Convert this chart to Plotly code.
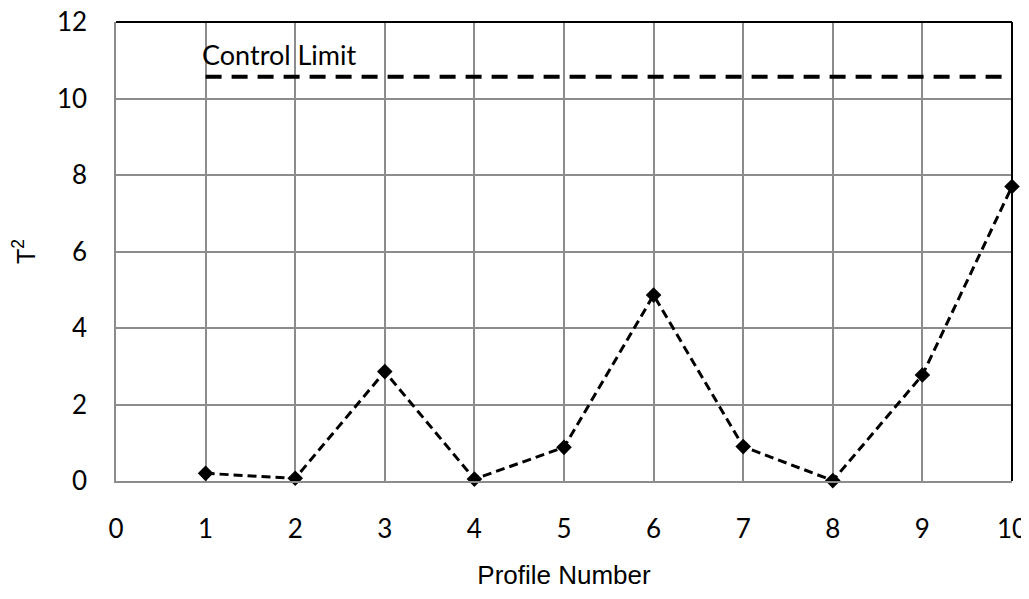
import plotly.graph_objects as go

profiles = [1, 2, 3, 4, 5, 6, 7, 8, 9, 10]
t2_values = [0.20, 0.07, 2.86, 0.05, 0.88, 4.86, 0.90, 0.01, 2.77, 7.70]
control_limit = 10.57
limit_x = [1, 10]
x_ticks = [0, 1, 2, 3, 4, 5, 6, 7, 8, 9, 10]
y_ticks = [0, 2, 4, 6, 8, 10, 12]

fig = go.Figure()
fig.add_trace(go.Scatter(
    x=limit_x, y=[control_limit] * len(limit_x), mode="lines",
    line=dict(color="black", width=4, dash="16px,10px"),
    hoverinfo="skip", showlegend=False, cliponaxis=False))
fig.add_trace(go.Scatter(
    x=profiles, y=t2_values, mode="lines+markers",
    line=dict(color="black", width=3, dash="9px,5px"),
    marker=dict(symbol="diamond", size=12, color="black"),
    showlegend=False, cliponaxis=False))

fig.add_annotation(x=limit_x[0], y=control_limit, text="Control Limit",
                   xanchor="left", yanchor="bottom", showarrow=False,
                   xshift=-6, yshift=4,
                   font=dict(family="Lato", size=27, color="black"))

# top and right black borders
fig.add_shape(type="line", xref="x domain", yref="y domain", x0=0, x1=1, y0=1, y1=1,
              line=dict(color="black", width=2))
fig.add_shape(type="line", xref="x domain", yref="y domain", x0=1, x1=1, y0=0, y1=1,
              line=dict(color="black", width=2))

fig.update_layout(
    width=1029, height=599,
    margin=dict(l=108, r=25, t=14, b=126),
    plot_bgcolor="white", paper_bgcolor="white",
    font=dict(family="Lato", size=26, color="black"),
)
fig.update_xaxes(
    range=[0, 10], tickvals=x_ticks, ticktext=[str(v) for v in x_ticks],
    showgrid=True, gridcolor="#8c8c8c", gridwidth=1.5,
    showline=True, linecolor="#8c8c8c", linewidth=1.5,
    zeroline=False, ticks="", ticklabelstandoff=24, automargin=False,
    ticklabeloverflow="allow",
    title=dict(text="Profile Number", font=dict(family="Liberation Sans", size=26), standoff=23),
)
fig.update_yaxes(
    range=[0, 12], tickvals=y_ticks,
    showgrid=True, gridcolor="#8c8c8c", gridwidth=1.5,
    showline=True, linecolor="#8c8c8c", linewidth=1.5,
    zeroline=False, ticks="", ticklabelstandoff=22, automargin=False,
    ticklabeloverflow="allow",
    title=dict(text="T<sup>2</sup>", font=dict(family="Liberation Sans", size=25), standoff=40),
)

fig.write_html("out.html")
